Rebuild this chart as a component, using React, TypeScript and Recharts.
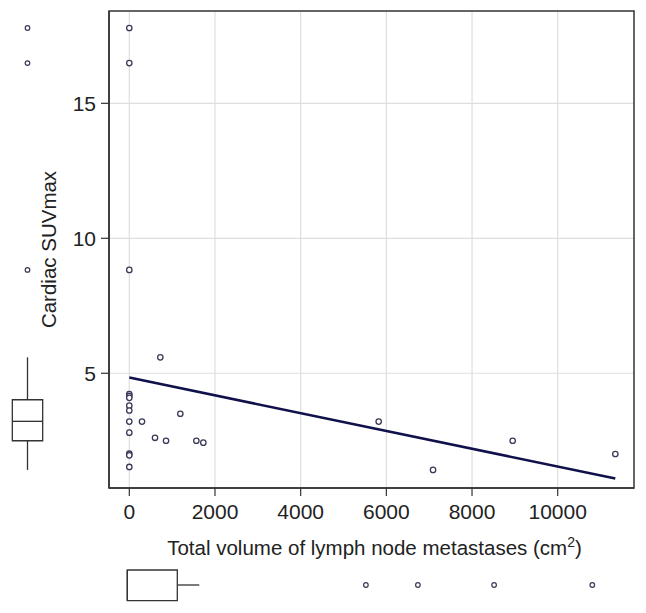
import React from 'react';
import {
  ComposedChart,
  Scatter,
  XAxis,
  YAxis,
  CartesianGrid,
  ReferenceLine,
  ReferenceArea,
} from 'recharts';

// Main scatter data (Total volume of lymph node metastases, Cardiac SUVmax)
const volumeValues = [0, 0, 0, 0, 0, 0, 0, 0, 0, 0, 0, 0, 0, 296, 600, 724, 857, 1191, 1565, 1728, 5821, 7090, 8949, 11345];
const suvValues = [17.79, 16.49, 8.83, 4.23, 4.16, 4.09, 3.8, 3.62, 3.21, 2.8, 2.02, 1.96, 1.53, 3.21, 2.61, 5.59, 2.5, 3.5, 2.5, 2.43, 3.21, 1.42, 2.5, 2.01];

// Regression line endpoints
const fitX = [0, 11345];
const fitY = [4.84, 1.1];

// Axis ticks
const xTicks = [0, 2000, 4000, 6000, 8000, 10000];
const yTicks = [5, 10, 15];
const xDomain = [-474, 11781];
const yDomain = [0.75, 18.42];

// Marginal box plot of SUVmax (left)
const suvBox = [1.42, 2.5, 3.22, 4.02, 5.59]; // min, q1, median, q3, max
const suvOutliers = [17.79, 16.49, 8.83];

// Marginal box plot of volume (bottom)
const volBox = [0, 0, 0, 1220, 1756];
const volOutliers = [5821, 7090, 8949, 11345];
const volDomain = [0, 11345];

const FONT = '"Liberation Sans", Arial, Helvetica, sans-serif';
const INK = '#222';
const FRAME = '#333';
const POINT = '#3a3a58';

const points = volumeValues.map((x, i) => ({ x, y: suvValues[i] }));
const leftOutliers = suvOutliers.map((y) => ({ x: 0.5, y }));
const bottomOutliers = volOutliers.map((x) => ({ x, y: 0.5 }));

const hollow = (r: number, stroke: string, sw: number) => (props: any) => {
  const { cx, cy } = props;
  if (cx == null || cy == null) return <g />;
  return <circle cx={cx} cy={cy} r={r} fill="#fff" stroke={stroke} strokeWidth={sw} />;
};

const YLabel = (props: any) => {
  const vb = props.viewBox || {};
  const cy = vb.y + vb.height / 2;
  const cx = 56;
  return (
    <text
      x={cx}
      y={cy}
      transform={`rotate(-90, ${cx}, ${cy})`}
      textAnchor="middle"
      fontFamily={FONT}
      fontSize={20.5}
      fill={INK}
    >
      Cardiac SUVmax
    </text>
  );
};

const XLabel = (props: any) => {
  const vb = props.viewBox || {};
  const cx = vb.x + vb.width / 2 + 3;
  return (
    <text x={cx} y={555} textAnchor="middle" fontFamily={FONT} fontSize={20.5} fill={INK}>
      Total volume of lymph node metastases (cm
      <tspan fontSize={14} dy={-8}>2</tspan>
      <tspan dy={8}>)</tspan>
    </text>
  );
};

export default function App() {
  return (
    <div style={{ position: 'absolute', left: 0, top: 0, width: 646, height: 613, background: '#fff' }}>
      {/* Main scatter */}
      <div style={{ position: 'absolute', left: 0, top: 0 }}>
        <ComposedChart width={646} height={613} margin={{ top: 11, right: 12, bottom: 0, left: 0 }} data={points}>
          <CartesianGrid stroke="#dedede" strokeWidth={1.2} horizontalValues={yTicks} verticalValues={xTicks} />
          <XAxis
            type="number"
            dataKey="x"
            domain={xDomain}
            ticks={xTicks}
            allowDataOverflow
            height={125}
            tickSize={8}
            tickMargin={8}
            axisLine={{ stroke: FRAME, strokeWidth: 1.5 }}
            tickLine={{ stroke: FRAME, strokeWidth: 1.2 }}
            tick={{ fontFamily: FONT, fontSize: 21, fill: INK }}
            label={{ content: <XLabel /> }}
          />
          <YAxis
            type="number"
            dataKey="y"
            domain={yDomain}
            ticks={yTicks}
            allowDataOverflow
            width={109}
            tickSize={8}
            tickMargin={5}
            axisLine={{ stroke: FRAME, strokeWidth: 1.5 }}
            tickLine={{ stroke: FRAME, strokeWidth: 1.2 }}
            tick={{ fontFamily: FONT, fontSize: 21, fill: INK }}
            label={{ content: <YLabel /> }}
          />
          <ReferenceArea
            x1={xDomain[0]}
            x2={xDomain[1]}
            y1={yDomain[0]}
            y2={yDomain[1]}
            fill="none"
            fillOpacity={0}
            stroke={FRAME}
            strokeWidth={1.5}
            ifOverflow="visible"
          />
          <ReferenceLine
            segment={[
              { x: fitX[0], y: fitY[0] },
              { x: fitX[1], y: fitY[1] },
            ]}
            stroke="#10104a"
            strokeWidth={2.6}
          />
          <Scatter data={points} dataKey="y" isAnimationActive={false} shape={hollow(2.7, POINT, 1.3)} />
        </ComposedChart>
      </div>

      {/* Left marginal box plot */}
      <div style={{ position: 'absolute', left: 0, top: 0 }}>
        <ComposedChart width={55} height={613} margin={{ top: 11, right: 0, bottom: 125, left: 0 }}>
          <XAxis type="number" dataKey="x" domain={[0, 1]} hide height={0} />
          <YAxis type="number" dataKey="y" domain={yDomain} hide width={0} />
          <ReferenceLine segment={[{ x: 0.5, y: suvBox[0] }, { x: 0.5, y: suvBox[1] }]} stroke={FRAME} strokeWidth={1.3} ifOverflow="visible" />
          <ReferenceLine segment={[{ x: 0.5, y: suvBox[3] }, { x: 0.5, y: suvBox[4] }]} stroke={FRAME} strokeWidth={1.3} ifOverflow="visible" />
          <ReferenceArea x1={0.224} x2={0.776} y1={suvBox[1]} y2={suvBox[3]} fill="#fff" fillOpacity={1} stroke={FRAME} strokeWidth={1.3} ifOverflow="visible" />
          <ReferenceLine segment={[{ x: 0.224, y: suvBox[2] }, { x: 0.776, y: suvBox[2] }]} stroke={FRAME} strokeWidth={1.3} ifOverflow="visible" />
          <Scatter data={leftOutliers} dataKey="y" isAnimationActive={false} shape={hollow(2.3, POINT, 1.2)} />
        </ComposedChart>
      </div>

      {/* Bottom marginal box plot */}
      <div style={{ position: 'absolute', left: 0, top: 560 }}>
        <ComposedChart width={646} height={50} margin={{ top: 0, right: 53.7, bottom: 0, left: 127.3 }}>
          <XAxis type="number" dataKey="x" domain={volDomain} hide height={0} />
          <YAxis type="number" dataKey="y" domain={[0, 1]} hide width={0} />
          <ReferenceLine segment={[{ x: volBox[3], y: 0.5 }, { x: volBox[4], y: 0.5 }]} stroke={FRAME} strokeWidth={1.3} ifOverflow="visible" />
          <ReferenceArea x1={volBox[1]} x2={volBox[3]} y1={0.186} y2={0.8} fill="#fff" fillOpacity={1} stroke={FRAME} strokeWidth={1.3} ifOverflow="visible" />
          <ReferenceLine segment={[{ x: volBox[2], y: 0.186 }, { x: volBox[2], y: 0.8 }]} stroke={FRAME} strokeWidth={1.3} ifOverflow="visible" />
          <Scatter data={bottomOutliers} dataKey="y" isAnimationActive={false} shape={hollow(2.3, POINT, 1.2)} />
        </ComposedChart>
      </div>
    </div>
  );
}
